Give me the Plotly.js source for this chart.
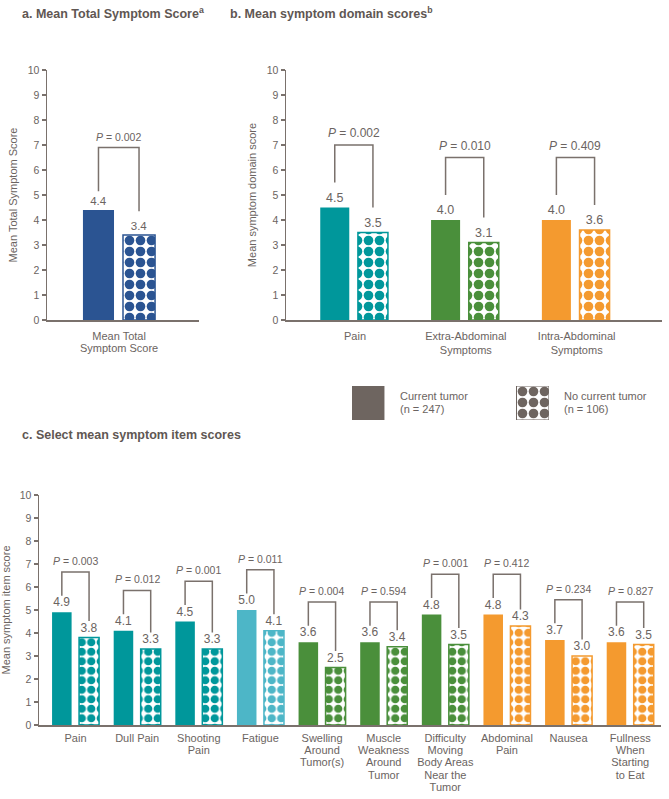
<!DOCTYPE html>
<html><head><meta charset="utf-8">
<script src="https://cdn.plot.ly/plotly-3.0.1.min.js"></script>
<style>html,body{margin:0;padding:0;background:#fff}#chart{width:669px;height:799px}</style>
</head><body><div id="chart"></div>
<script>
// ---------- DATA ----------
// a. Mean Total Symptom Score
const totalLabels = ['Mean Total<br>Symptom Score'];
const totalCurrent = [4.4];
const totalNoCurrent = [3.4];
const totalP = ['0.002'];

// b. Mean symptom domain scores
const domainLabels = ['Pain', 'Extra-Abdominal<br>Symptoms', 'Intra-Abdominal<br>Symptoms'];
const domainCurrent = [4.5, 4.0, 4.0];
const domainNoCurrent = [3.5, 3.1, 3.6];
const domainP = ['0.002', '0.010', '0.409'];

// c. Select mean symptom item scores
const itemLabels = ['Pain', 'Dull Pain', 'Shooting<br>Pain', 'Fatigue', 'Swelling<br>Around<br>Tumor(s)',
  'Muscle<br>Weakness<br>Around<br>Tumor', 'Difficulty<br>Moving<br>Body Areas<br>Near the<br>Tumor',
  'Abdominal<br>Pain', 'Nausea', 'Fullness<br>When<br>Starting<br>to Eat'];
const itemCurrent = [4.9, 4.1, 4.5, 5.0, 3.6, 3.6, 4.8, 4.8, 3.7, 3.6];
const itemNoCurrent = [3.8, 3.3, 3.3, 4.1, 2.5, 3.4, 3.5, 4.3, 3.0, 3.5];
const itemP = ['0.003', '0.012', '0.001', '0.011', '0.004', '0.594', '0.001', '0.412', '0.234', '0.827'];

// legend
const legendLabels = ['Current tumor<br>(n = 247)', 'No current tumor<br>(n = 106)'];
const yTicks = [0, 1, 2, 3, 4, 5, 6, 7, 8, 9, 10];

// ---------- STYLES ----------
const TEAL = '#00979b', LBLUE = '#4db6c7', GREEN = '#4a8f3b', ORANGE = '#f49a2f', NAVY = '#2b5492', GRAY = '#6e6560';
const totalColors = [NAVY];
const domainColors = [TEAL, GREEN, ORANGE];
const itemColors = [TEAL, TEAL, TEAL, LBLUE, GREEN, GREEN, GREEN, ORANGE, ORANGE, ORANGE];
const TXT = '#6b6461', LINE = '#7a716c';
const FONT = 'Liberation Sans, Arial, sans-serif';

const panels = [
  {xa: 'x', ya: 'y', labels: totalLabels, cur: totalCurrent, no: totalNoCurrent, p: totalP, colors: totalColors,
   curOff: -0.326, curW: 0.28, noOff: 0.035, noW: 0.289, legPadL: 0.75, legPadR: 0.95, topPad: 2.5,
   pFont: 10.5, valFont: 11.5, pat: 11},
  {xa: 'x2', ya: 'y2', labels: domainLabels, cur: domainCurrent, no: domainNoCurrent, p: domainP, colors: domainColors,
   curOff: -0.314, curW: 0.262, noOff: 0.026, noW: 0.271, legPadL: 1.0, legPadR: 1.0, topPad: 2.5,
   pFont: 12, valFont: 12.5, pat: 11},
  {xa: 'x3', ya: 'y3', labels: itemLabels, cur: itemCurrent, no: itemNoCurrent, p: itemP, colors: itemColors,
   curOff: -0.381, curW: 0.317, noOff: 0.057, noW: 0.325, legPadL: 0.72, legPadR: 0.72, topPad: 1.75,
   pFont: 10.5, valFont: 12, pat: 9.5}
];

const traces = [], shapes = [], annotations = [];
panels.forEach(pn => {
  const idx = pn.labels.map((_, i) => i);
  traces.push({
    type: 'bar', x: idx, y: pn.cur, xaxis: pn.xa, yaxis: pn.ya,
    offset: pn.curOff, width: pn.curW,
    marker: {color: pn.colors},
    texttemplate: '%{y:.1f}', textposition: 'outside', constraintext: 'none', cliponaxis: false,
    textfont: {size: pn.valFont, color: TXT, family: FONT},
    hoverinfo: 'skip', showlegend: false
  });
  traces.push({
    type: 'bar', x: idx, y: pn.no, xaxis: pn.xa, yaxis: pn.ya,
    offset: pn.noOff, width: pn.noW,
    marker: {color: 'white', line: {color: pn.colors, width: 1.5},
      pattern: {shape: '.', fgcolor: pn.colors, bgcolor: 'white', size: pn.pat, solidity: 0.6, fillmode: 'replace'}},
    texttemplate: '%{y:.1f}', textposition: 'outside', constraintext: 'none', cliponaxis: false,
    textfont: {size: pn.valFont, color: TXT, family: FONT},
    hoverinfo: 'skip', showlegend: false
  });
  idx.forEach(i => {
    const xl = i + pn.curOff + pn.curW / 2;
    const xr = i + pn.noOff + pn.noW / 2;
    const yl = pn.cur[i] + pn.legPadL;
    const yr = pn.no[i] + pn.legPadR;
    const top = Math.max(pn.cur[i], pn.no[i]) + pn.topPad;
    shapes.push({type: 'path', xref: pn.xa, yref: pn.ya,
      path: `M${xl},${yl} L${xl},${top} L${xr},${top} L${xr},${yr}`,
      line: {color: LINE, width: 1.5}});
    annotations.push({xref: pn.xa, yref: pn.ya, x: (xl + xr) / 2, y: top, yanchor: 'bottom', yshift: 3,
      showarrow: false, text: `<i>P</i> = ${pn.p[i]}`, font: {size: pn.pFont, color: TXT, family: FONT}});
  });
});

// legend boxes drawn as bars on a hidden axis
traces.push({type: 'bar', x: [0], y: [1], xaxis: 'x4', yaxis: 'y4', offset: -0.0973, width: 0.1973,
  marker: {color: GRAY}, hoverinfo: 'skip', showlegend: false});
traces.push({type: 'bar', x: [1], y: [1], xaxis: 'x4', yaxis: 'y4', offset: -0.0973, width: 0.1973,
  marker: {color: 'white', line: {color: GRAY, width: 1},
    pattern: {shape: '.', fgcolor: GRAY, bgcolor: 'white', size: 11, solidity: 0.6, fillmode: 'replace'}},
  hoverinfo: 'skip', showlegend: false});
annotations.push({xref: 'paper', yref: 'paper', x: 398 / 669, y: 1 - 402.5 / 799, xanchor: 'left', yanchor: 'middle',
  align: 'left', showarrow: false, text: legendLabels[0], font: {size: 11, color: TXT, family: FONT}});
annotations.push({xref: 'paper', yref: 'paper', x: 562 / 669, y: 1 - 402.5 / 799, xanchor: 'left', yanchor: 'middle',
  align: 'left', showarrow: false, text: legendLabels[1], font: {size: 11, color: TXT, family: FONT}});

// panel titles
const titleFont = {size: 12.5, color: '#5f5753', family: FONT, weight: 'bold'};
annotations.push({xref: 'paper', yref: 'paper', x: 20 / 669, y: 1 - 13 / 799, xanchor: 'left', yanchor: 'middle',
  showarrow: false, text: '<b>a. Mean Total Symptom Score<sup>a</sup></b>', font: titleFont});
annotations.push({xref: 'paper', yref: 'paper', x: 228 / 669, y: 1 - 13 / 799, xanchor: 'left', yanchor: 'middle',
  showarrow: false, text: '<b>b. Mean symptom domain scores<sup>b</sup></b>', font: titleFont});
annotations.push({xref: 'paper', yref: 'paper', x: 20 / 669, y: 1 - 435 / 799, xanchor: 'left', yanchor: 'middle',
  showarrow: false, text: '<b>c. Select mean symptom item scores</b>', font: titleFont});

function xAxis(domainPx, range, labels, standoff) {
  return {domain: [domainPx[0] / 669, domainPx[1] / 669], range: range, showline: true, linecolor: LINE, linewidth: 1.5,
    ticks: '', tickvals: labels.map((_, i) => i), ticktext: labels, showgrid: false, zeroline: false,
    tickfont: {size: 11, color: TXT, family: FONT}, ticklabelstandoff: standoff, fixedrange: true};
}
function yAxis(domainPx, title, standoff) {
  return {domain: [1 - domainPx[1] / 799, 1 - domainPx[0] / 799], range: [0, 10], tickvals: yTicks,
    showline: true, linecolor: LINE, linewidth: 1.5, ticks: 'outside', ticklen: 4, tickcolor: LINE, tickwidth: 1.5,
    showgrid: false, zeroline: false, tickfont: {size: 10.5, color: TXT, family: FONT},
    title: {text: title, font: {size: 11, color: TXT, family: FONT}, standoff: standoff}, fixedrange: true};
}

const layout = {
  width: 669, height: 799, margin: {l: 0, r: 0, t: 0, b: 0},
  paper_bgcolor: 'white', plot_bgcolor: 'white', font: {family: FONT, color: TXT},
  barmode: 'overlay', showlegend: false,
  xaxis: Object.assign(xAxis([47, 199], [-0.65, 0.72], totalLabels, 5), {anchor: 'y'}),
  yaxis: Object.assign(yAxis([70, 320], 'Mean Total Symptom Score', 8), {anchor: 'x'}),
  xaxis2: Object.assign(xAxis([286, 662], [-0.623, 2.77], domainLabels, 5), {anchor: 'y2'}),
  yaxis2: Object.assign(yAxis([70, 320], 'Mean symptom domain score', 8), {anchor: 'x2'}),
  xaxis3: Object.assign(xAxis([39, 661], [-0.593, 9.5], itemLabels, 2), {anchor: 'y3'}),
  yaxis3: Object.assign(yAxis([495, 725], 'Mean symptom item score', 8), {anchor: 'x3'}),
  xaxis4: {domain: [352 / 669, 549 / 669], range: [-0.0973, 1.1003], visible: false, anchor: 'y4', fixedrange: true},
  yaxis4: {domain: [1 - 420 / 799, 1 - 386 / 799], range: [0, 1], visible: false, anchor: 'x4', fixedrange: true},
  shapes: shapes, annotations: annotations
};

Plotly.newPlot('chart', traces, layout, {displayModeBar: false, staticPlot: true}).then(gd => {
  // tighten line spacing of multi-line category labels to match the reference
  const tighten = (sel, em) => gd.querySelectorAll(sel).forEach(t => {
    const dy = parseFloat(t.getAttribute('dy'));
    if (dy > 0) t.setAttribute('dy', (dy / 1.3 * em).toFixed(3) + 'em');
  });
  tighten('.xtick text tspan.line', 1.15);
  tighten('.x3tick text tspan.line', 1.12);
  tighten('.annotation-text tspan.line', 1.18);
});
</script>
</body></html>
